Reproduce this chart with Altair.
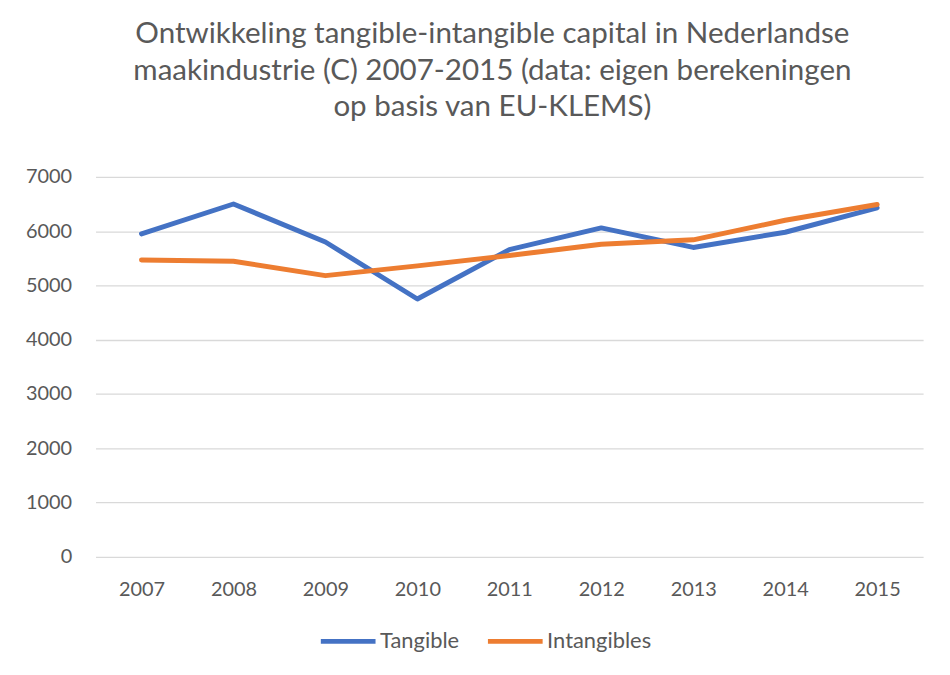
import altair as alt
import pandas as pd

years = ["2007", "2008", "2009", "2010", "2011", "2012", "2013", "2014", "2015"]
tangible = [5950, 6500, 5800, 4750, 5660, 6060, 5700, 5980, 6430]
intangibles = [5470, 5445, 5180, 5360, 5550, 5760, 5840, 6200, 6490]
series_names = ["Tangible", "Intangibles"]
colors = ["#4472C4", "#ED7D31"]

rows = []
for name, vals in zip(series_names, [tangible, intangibles]):
    for y, v in zip(years, vals):
        rows.append({"Jaar": y, "Waarde": v, "Reeks": name})
df = pd.DataFrame(rows)

FONT = "Lato"
GREY = "#595959"

chart = alt.Chart(df).mark_line(
    strokeWidth=5, strokeCap="round", strokeJoin="round"
).encode(
    x=alt.X("Jaar:O", scale=alt.Scale(type="point", padding=0.5),
            axis=alt.Axis(title=None, labelAngle=0, ticks=False, domain=False,
                          labelPadding=23, labelFontSize=20, labelColor=GREY,
                          labelFont=FONT)),
    y=alt.Y("Waarde:Q", scale=alt.Scale(domain=[0, 7000], nice=False),
            axis=alt.Axis(title=None, values=[0, 1000, 2000, 3000, 4000, 5000, 6000, 7000],
                          format="d", ticks=False, domain=False, labelPadding=24,
                          labelFontSize=20, labelColor=GREY, labelFont=FONT,
                          gridColor="#d9d9d9", gridWidth=1.3)),
    color=alt.Color("Reeks:N", scale=alt.Scale(domain=series_names, range=colors),
                    legend=alt.Legend(title=None, orient="none", direction="horizontal",
                                      legendX=224, legendY=437,
                                      symbolType="stroke", symbolSize=3025,
                                      symbolStrokeWidth=5, labelFontSize=22,
                                      labelColor=GREY, labelFont=FONT,
                                      labelOffset=2, columnPadding=18)),
).properties(
    width=832, height=382,
    autosize=alt.AutoSizeParams(type="none"),
    padding={"left": 88, "top": 168, "right": 19, "bottom": 109},
    title=alt.TitleParams(
        ["Ontwikkeling tangible-intangible capital in Nederlandse",
         "maakindustrie (C) 2007-2015 (data: eigen berekeningen",
         "op basis van EU-KLEMS)"],
        anchor="middle", fontSize=29.7, font=FONT, fontWeight="normal",
        color=GREY, lineHeight=37, offset=44, dx=-17),
).configure_view(stroke=None)

chart.save("out.html", embed_options={"renderer": "svg", "actions": False})
